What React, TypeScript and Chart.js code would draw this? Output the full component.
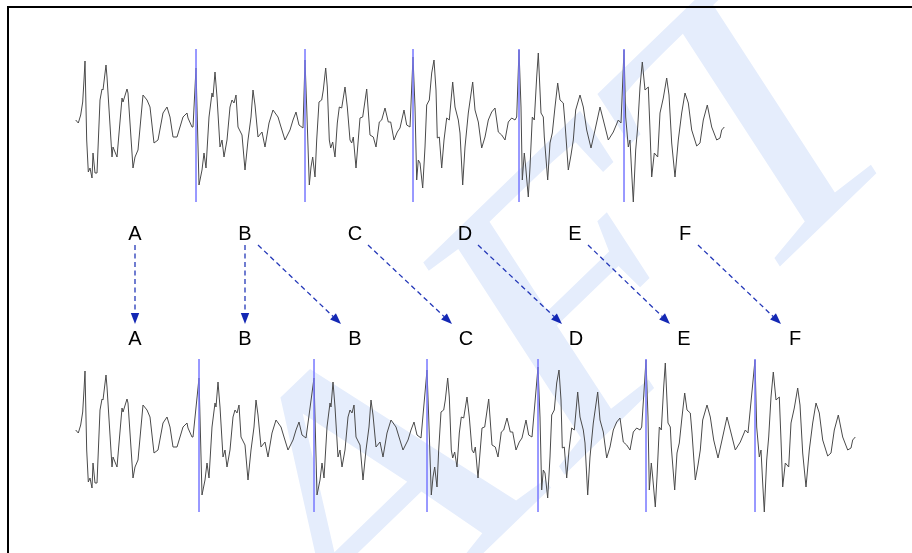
import React, { useEffect, useRef } from 'react';
import { Chart, registerables } from 'chart.js';

Chart.register(...registerables);

// Each pitch period: [time offset from its pitch mark (samples), amplitude]
const PERIOD_A: [number, number][] = [
  [-9.3, 2], [-6.7, -1], [-4.3, 7], [-2.3, 20], [-1, 42], [0, 61], [1.7, -18], [3.3, -50], [5, -46], [7, -56],
  [8, -31], [10, -51], [12, -51], [15, 22], [17, 33], [18, 32], [21, 57], [22, 45], [27, -35], [28, -25],
  [32, -35], [37, 24], [38, 20], [42, 33], [43, 29], [48, -46], [50, -35], [53, -28], [58, 27], [62, 22],
  [65, 15], [69, -21], [73, -18], [78, 9], [82, 15], [85, 5], [88, -15], [92, -15], [98, 5], [102, 9],
  [103, 4], [107, -5], [108, -5],
];
const PERIOD_B: [number, number][] = [
  [0, 54], [3, -63], [6, -48], [8, -31], [10, -46], [13, 5], [16, 29], [17, 25], [19, 50], [21, 25],
  [24, -25], [26, -18], [28, -35], [31, -18], [34, 15], [36, 22], [38, 19], [40, 27], [42, -5], [46, -13],
  [49, -48], [52, -18], [55, 5], [57, 32], [59, 17], [62, -15], [66, -10], [69, -25], [73, -1], [77, 12],
  [82, 5], [85, -5], [89, -18], [94, -8], [97, 2], [100, 10], [103, -3], [107, -6],
];
const PERIOD_C: [number, number][] = [
  [0, 62], [1.7, 15], [4.3, -63], [6, -45], [7.7, -35], [10, -55], [11.7, -18], [14, 20], [16.7, 22], [18.3, 32],
  [20.7, 54], [22.3, 35], [24.3, -18], [25.7, -26], [27.7, -20], [30, -35], [32.3, -1], [34.3, 15], [36.7, 14], [40, 35],
  [42.3, 15], [45, -18], [46.7, -21], [48.3, -15], [51, -46], [55, 4], [57.7, 5], [61.7, 33], [65, -13], [68.3, -15],
  [71, -25], [74.3, 0], [76.7, 2], [80, 14], [83.3, 0], [85.7, 0], [89, -18], [92.3, -10], [95, -6], [99, 12],
  [101.7, -3], [105, -5],
];
const PERIOD_D: [number, number][] = [
  [0, 65], [2, 15], [3.7, -58], [5.3, -38], [7, -41], [9.7, -66], [12, -25], [13.7, 17], [16.3, 22], [18.7, 49],
  [21, 62], [23, 32], [24.3, -16], [26.3, -15], [28.7, -46], [31, -18], [33.7, 4], [36.3, 2], [39.7, 40], [42, 15],
  [45.3, 2], [47, -11], [49.7, -63], [52, -25], [55.3, 9], [59.7, 40], [62, 12], [65.3, 0], [68.7, -26], [72, -15],
  [75.3, 2], [78.7, 10], [82, 14], [85.3, -10], [88.7, -13], [92, -18], [95.3, 0], [98.7, 4], [102, 2], [103.7, 5],
];
const PERIOD_E: [number, number][] = [
  [0, 72], [2, 15], [3.3, -58], [5.3, -31], [6.7, -45], [9.3, -75], [11, -45], [13.3, 5], [15.3, 2], [17.7, 45],
  [19.3, 69], [22, 9], [24.3, 5], [25.3, -15], [28.7, -58], [31, -21], [33.3, -11], [36, 15], [38.7, 39], [41, 22],
  [44.3, 19], [46, -1], [49.3, -48], [52, -33], [54.3, -18], [56.7, 12], [61, 27], [64.3, 15], [67.7, -8], [72, -26],
  [76, -8], [81, 15], [84.3, 2], [89.3, -18], [94.3, -10], [99.3, 2], [102, -1],
];
const PERIOD_F: [number, number][] = [
  [0, 72], [1.7, 5], [4.3, -25], [6, -18], [7.7, -51], [9.3, -80], [11.7, -28], [13.7, -5], [16, 35], [18.3, 60],
  [21, 32], [24.3, 35], [26, -8], [27.7, -55], [30.3, -31], [33.7, -35], [36, 9], [39.3, 24], [42.7, 44], [45, 27],
  [47.7, -21], [51, -55], [54.3, -18], [57.7, 9], [61, 29], [64.3, 19], [67.7, -8], [72.7, -24], [76, -21], [79.3, 2],
  [83.3, 17], [87.7, -5], [92.7, -18], [96, -16], [97.7, -8], [100.3, -5],
];

const PERIODS: Record<string, [number, number][]> = {
  A: PERIOD_A, B: PERIOD_B, C: PERIOD_C, D: PERIOD_D, E: PERIOD_E, F: PERIOD_F,
};

// original signal: periods and their pitch marks (sample index)
const TOP_SEQUENCE = ['A', 'B', 'C', 'D', 'E', 'F'];
const TOP_MARKS = [85, 196, 305, 413, 519, 624];
// modified signal: B repeated, marks spread further apart
const BOTTOM_SEQUENCE = ['A', 'B', 'B', 'C', 'D', 'E', 'F'];
const BOTTOM_MARKS = [85, 199, 314, 427, 538, 646, 755];
// amplitude span of the pitch-mark lines
const MARK_SPAN = [73, -80];

// period labels (sample index of each label)
const TOP_LABEL_T = [135, 245, 355, 465, 575, 685];
const BOTTOM_LABEL_T = [135, 245, 355, 466, 576, 684, 795];
// arrows: [top label index, bottom label index]
const ARROWS: [number, number][] = [[0, 0], [1, 1], [1, 2], [2, 3], [3, 4], [4, 5], [5, 6]];

const WATERMARK = 'DRAFT';

function buildTrace(seq: string[], marks: number[]) {
  const pts: { x: number; y: number }[] = [];
  seq.forEach((name, i) => {
    PERIODS[name].forEach(([t, v]) => pts.push({ x: marks[i] + t, y: v }));
  });
  return pts;
}

export default function App() {
  const ref = useRef<HTMLCanvasElement | null>(null);

  useEffect(() => {
    if (!ref.current) return;

    const markColor = 'rgba(120,120,255,0.75)';
    const markSets: any[] = [];
    TOP_MARKS.slice(1).forEach((m) =>
      markSets.push({
        data: [{ x: m, y: MARK_SPAN[0] }, { x: m, y: MARK_SPAN[1] }],
        yAxisID: 'yTop', borderColor: markColor, borderWidth: 1, pointRadius: 0,
      })
    );
    BOTTOM_MARKS.slice(1).forEach((m) =>
      markSets.push({
        data: [{ x: m, y: MARK_SPAN[0] }, { x: m, y: MARK_SPAN[1] }],
        yAxisID: 'yBot', borderColor: markColor, borderWidth: 1, pointRadius: 0,
      })
    );

    const watermark = {
      id: 'watermark',
      beforeDatasetsDraw(chart: any) {
        const ctx = chart.ctx as CanvasRenderingContext2D;
        ctx.save();
        ctx.transform(0.8186, -0.7913, 0.545, 0.839, -120.8, 1137.1);
        ctx.font = '390px "Liberation Serif"';
        ctx.fillStyle = '#e5edfc';
        ctx.textAlign = 'left';
        ctx.textBaseline = 'alphabetic';
        ctx.fillText(WATERMARK, 0, 0);
        ctx.restore();
      },
    };

    const labels = {
      id: 'labels',
      afterDatasetsDraw(chart: any) {
        const ctx = chart.ctx as CanvasRenderingContext2D;
        const xs = chart.scales.x;
        const rows = chart.scales.rows;
        const yTop = rows.getPixelForValue(1);
        const yBot = rows.getPixelForValue(0);
        ctx.save();
        ctx.font = '20px "Liberation Sans"';
        ctx.fillStyle = '#000';
        ctx.textAlign = 'center';
        ctx.textBaseline = 'alphabetic';
        TOP_SEQUENCE.forEach((s, i) => ctx.fillText(s, xs.getPixelForValue(TOP_LABEL_T[i]), yTop));
        BOTTOM_SEQUENCE.forEach((s, i) => ctx.fillText(s, xs.getPixelForValue(BOTTOM_LABEL_T[i]), yBot));

        ARROWS.forEach(([a, b]) => {
          const xa = xs.getPixelForValue(TOP_LABEL_T[a]);
          const xb = xs.getPixelForValue(BOTTOM_LABEL_T[b]);
          const vertical = Math.abs(xa - xb) < 1;
          const x1 = vertical ? xa : xa + 13;
          const x2 = vertical ? xb : xb - 14;
          const y1 = yTop + 5;
          const y2 = yBot - 21.5;
          const ang = Math.atan2(y2 - y1, x2 - x1);
          const headLen = 11;
          const headW = 4.2;
          const bx = x2 - headLen * Math.cos(ang);
          const by = y2 - headLen * Math.sin(ang);
          ctx.strokeStyle = '#2438b8';
          ctx.lineWidth = 1.3;
          ctx.setLineDash([5, 3.5]);
          ctx.beginPath();
          ctx.moveTo(x1, y1);
          ctx.lineTo(bx, by);
          ctx.stroke();
          ctx.setLineDash([]);
          ctx.fillStyle = '#1428b4';
          ctx.beginPath();
          ctx.moveTo(x2, y2);
          ctx.lineTo(bx + headW * Math.sin(ang), by - headW * Math.cos(ang));
          ctx.lineTo(bx - headW * Math.sin(ang), by + headW * Math.cos(ang));
          ctx.closePath();
          ctx.fill();
        });
        ctx.restore();
      },
    };

    const chart = new Chart(ref.current, {
      type: 'line',
      data: {
        datasets: [
          ...markSets,
          {
            data: buildTrace(TOP_SEQUENCE, TOP_MARKS),
            yAxisID: 'yTop', borderColor: '#4a4a4a', borderWidth: 1, pointRadius: 0, tension: 0,
          },
          {
            data: buildTrace(BOTTOM_SEQUENCE, BOTTOM_MARKS),
            yAxisID: 'yBot', borderColor: '#4a4a4a', borderWidth: 1, pointRadius: 0, tension: 0,
          },
        ],
      },
      options: {
        animation: false,
        responsive: false,
        maintainAspectRatio: false,
        layout: { padding: 0 },
        plugins: { legend: { display: false }, tooltip: { enabled: false } },
        scales: {
          x: { type: 'linear', min: 0, max: 912, display: false },
          yTop: { type: 'linear', min: -431, max: 122, display: false },
          yBot: { type: 'linear', min: -121, max: 432, display: false },
          rows: { type: 'linear', min: -1.967, max: 3.275, display: false },
        },
      },
      plugins: [watermark, labels],
    });
    return () => chart.destroy();
  }, []);

  return (
    <div style={{ position: 'fixed', left: 0, top: 0, width: 912, height: 553, overflow: 'hidden', background: '#fff' }}>
      <canvas ref={ref} width={912} height={553} style={{ position: 'absolute', left: 0, top: 0, width: 912, height: 553 }} />
      <div
        style={{
          position: 'absolute', left: 7, top: 6, width: 1000, height: 800,
          border: '2px solid #000', pointerEvents: 'none',
        }}
      />
    </div>
  );
}
